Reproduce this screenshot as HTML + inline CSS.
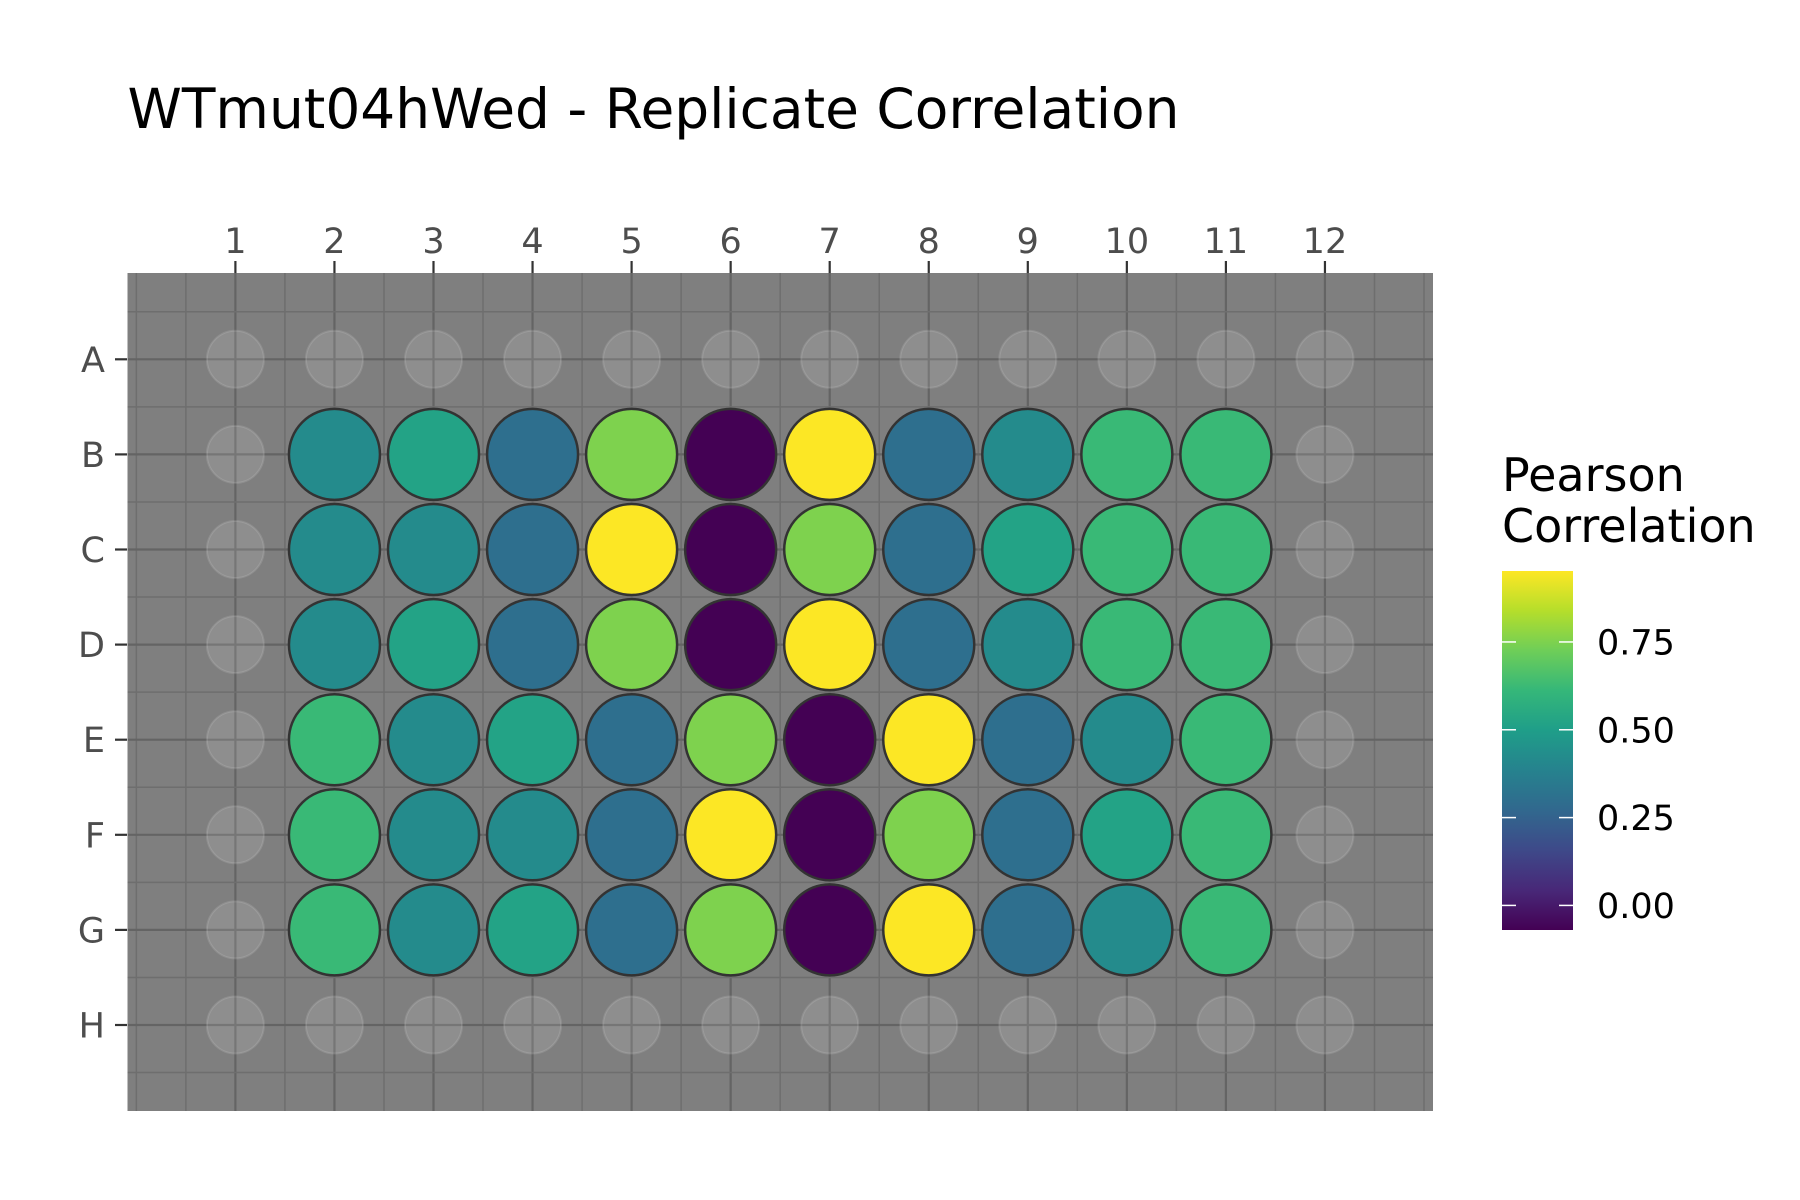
<!DOCTYPE html>
<html><head><meta charset="utf-8"><style>
html,body{margin:0;padding:0;background:#fff;}
svg{display:block;font-family:"DejaVu Sans","Liberation Sans",sans-serif;}
</style></head><body>
<svg id="chart" width="1800" height="1200" viewBox="0 0 1800 1200" xmlns="http://www.w3.org/2000/svg">
<defs>
<linearGradient id="vir" x1="0" y1="1" x2="0" y2="0">
<stop offset="0" stop-color="#440154"/><stop offset="0.111" stop-color="#482878"/><stop offset="0.222" stop-color="#3e4989"/><stop offset="0.333" stop-color="#31688e"/><stop offset="0.444" stop-color="#26828e"/><stop offset="0.556" stop-color="#1f9e89"/><stop offset="0.667" stop-color="#35b779"/><stop offset="0.778" stop-color="#6ece58"/><stop offset="0.889" stop-color="#b5de2b"/><stop offset="1" stop-color="#fde725"/>
</linearGradient>
</defs>
<text x="127.5" y="128" font-size="55" fill="#000" textLength="1052" lengthAdjust="spacingAndGlyphs">WTmut04hWed - Replicate Correlation</text>
<g id="panel"></g>
<g id="legend">
<text x="1502" y="491" font-size="46" fill="#000">Pearson</text>
<text x="1502" y="542" font-size="46" fill="#000">Correlation</text>
<rect x="1502" y="571" width="71" height="359" fill="url(#vir)"/>
</g>
</svg>
<script>
const columns = [1,2,3,4,5,6,7,8,9,10,11,12];
const rows = ["A","B","C","D","E","F","G","H"];
const filledRows = ["B","C","D","E","F","G"];
const filledCols = [2,3,4,5,6,7,8,9,10,11];
const rowB = [0.42,0.52,0.30,0.75,-0.07,0.95,0.30,0.42,0.62,0.62];
const rowC = [0.42,0.42,0.30,0.95,-0.07,0.75,0.30,0.52,0.62,0.62];
const rowD = [0.42,0.52,0.30,0.75,-0.07,0.95,0.30,0.42,0.62,0.62];
const rowE = [0.62,0.42,0.52,0.30,0.75,-0.07,0.95,0.30,0.42,0.62];
const rowF = [0.62,0.42,0.42,0.30,0.95,-0.07,0.75,0.30,0.52,0.62];
const rowG = [0.62,0.42,0.52,0.30,0.75,-0.07,0.95,0.30,0.42,0.62];
const legendTicks = [0,0.25,0.5,0.75];
const legendTickLabels = ["0.00","0.25","0.50","0.75"];
const colorMin = -0.07, colorMax = 0.952;

const NS = "http://www.w3.org/2000/svg";
const P = {x0:127.5, x1:1433, y0:273, y1:1111};
const xS = c => 235.4 + 99.05*(c-1);
const yS = i => 359.3 + 95.1*i;
const lY = v => 930 - (v - colorMin)/(colorMax - colorMin)*359;
const stops = ["#440154","#482878","#3e4989","#31688e","#26828e","#1f9e89","#35b779","#6ece58","#b5de2b","#fde725"];
function hex(h){return [1,3,5].map(i=>parseInt(h.substr(i,2),16));}
function viridis(v){
  let t=(v-colorMin)/(colorMax-colorMin); t=Math.max(0,Math.min(1,t));
  const p=t*9, i=Math.min(8,Math.floor(p)), f=p-i;
  const a=hex(stops[i]), b=hex(stops[i+1]);
  return "rgb("+a.map((x,k)=>Math.round(x+(b[k]-x)*f)).join(",")+")";
}
function mk(tag, attrs, parent){const e=document.createElementNS(NS,tag);for(const k in attrs)e.setAttribute(k,attrs[k]);parent.appendChild(e);return e;}
const g=document.getElementById("panel");
const bg=mk("rect",{x:P.x0,y:P.y0,width:P.x1-P.x0,height:P.y1-P.y0,fill:"#7f7f7f"},g);


for(let h=0;h<=26;h++){
  const c=h/2, x=xS(c);
  if(x<P.x0||x>P.x1) continue;
  const major = h%2===0 && c>=1 && c<=12;
  const l=mk("line",{x1:x,x2:x,y1:P.y0,y2:P.y1,stroke:major?"#646464":"#6e6e6e","stroke-width":major?2.2:1.5},g);
  
  
}
for(let h=-1;h<=16;h++){
  const r=h/2, y=yS(r);
  if(y<P.y0||y>P.y1) continue;
  const major = h%2===0 && r>=0 && r<=7;
  const l=mk("line",{x1:P.x0,x2:P.x1,y1:y,y2:y,stroke:major?"#646464":"#6e6e6e","stroke-width":major?2.2:1.5},g);
  
  
}
columns.forEach(c=>{
  const t=mk("line",{x1:xS(c),x2:xS(c),y1:261,y2:273,stroke:"#333","stroke-width":2.2},g);
  
  
  const tx=mk("text",{x:xS(c),y:253,"font-size":35,fill:"#4d4d4d","text-anchor":"middle"},g);
  tx.textContent=c;
  
  
});
rows.forEach((r,i)=>{
  const t=mk("line",{x1:115,x2:127,y1:yS(i),y2:yS(i),stroke:"#333","stroke-width":2.2},g);
  
  
  const tx=mk("text",{x:105,y:yS(i)+12.5,"font-size":35,fill:"#4d4d4d","text-anchor":"end"},g);
  tx.textContent=r;
  
  
});
rows.forEach((r,i)=>{columns.forEach(c=>{
  if(filledRows.includes(r)&&filledCols.includes(c)) return;
  const e=mk("circle",{cx:xS(c),cy:yS(i),r:28.5,fill:"#ffffff","fill-opacity":0.12,stroke:"#ffffff","stroke-opacity":0.12,"stroke-width":2},g);
  
  
});});
const data=[rowB,rowC,rowD,rowE,rowF,rowG];
filledRows.forEach((r,ri)=>{
  const i=rows.indexOf(r);
  filledCols.forEach((c,ci)=>{
    const v=data[ri][ci];
    const e=mk("circle",{cx:xS(c),cy:yS(i),r:45.5,fill:viridis(v),stroke:"#333333","stroke-width":2.5},g);
    
    
  });
});
const lg=document.getElementById("legend");
legendTicks.forEach((v,k)=>{
  const y=lY(v);
  const a=mk("line",{x1:1502,x2:1516,y1:y,y2:y,stroke:"#fff","stroke-width":1.5},lg);
  
  
  const b=mk("line",{x1:1559,x2:1573,y1:y,y2:y,stroke:"#fff","stroke-width":1.5},lg);
  
  
  const t=mk("text",{x:1597,y:y+12.5,"font-size":35,fill:"#000"},lg);
  t.textContent=legendTickLabels[k];
  
  
});
</script>
</body></html>
